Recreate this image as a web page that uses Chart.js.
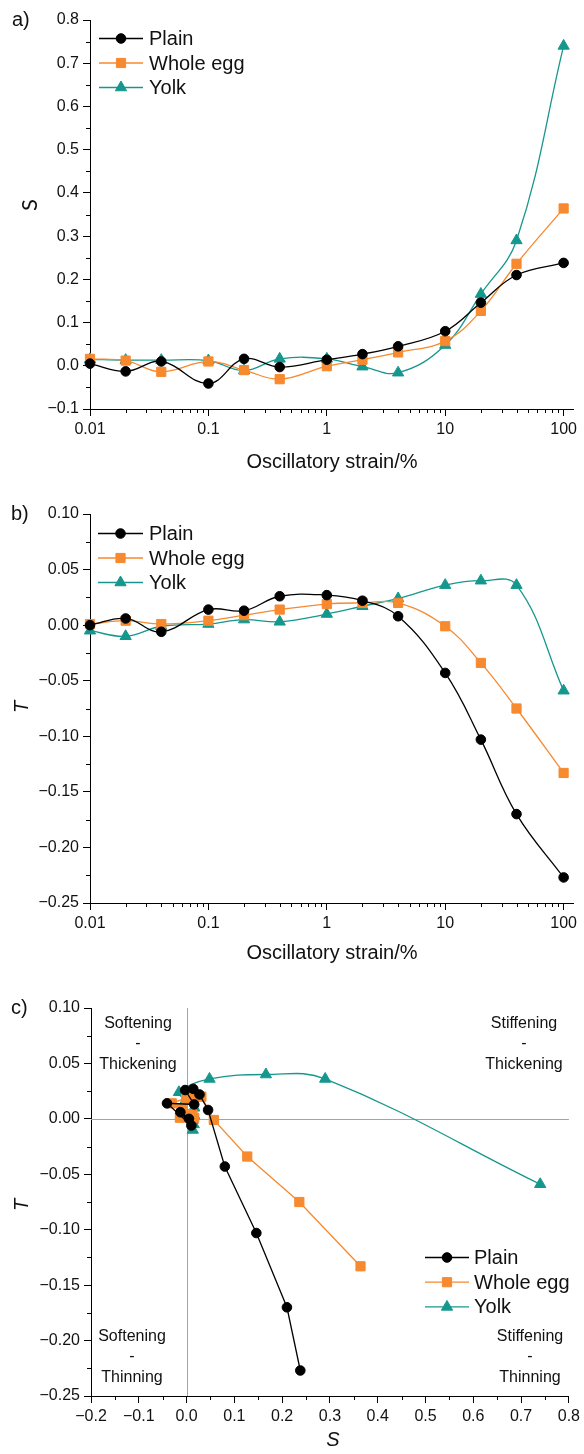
<!DOCTYPE html>
<html>
<head>
<meta charset="utf-8">
<script src="https://cdn.jsdelivr.net/npm/chart.js@4.4.0/dist/chart.umd.min.js"></script>
<style>
body { margin: 0; background: #fff; }
#wrap { position: relative; width: 584px; height: 1454px; }
canvas { position: absolute; left: 0; }
</style>
</head>
<body>
<div id="wrap">
  <canvas id="chartA" width="584" height="480" style="top:0px"></canvas>
  <canvas id="chartB" width="584" height="490" style="top:480px"></canvas>
  <canvas id="chartC" width="584" height="484" style="top:970px"></canvas>
</div>
<script>
// oscillatory strain (%) for every point
const strain = [0.01, 0.02, 0.04, 0.1, 0.2, 0.4, 1, 2, 4, 10, 20, 40, 100];

// strain-stiffening ratio S
const sPlain = [0.005, -0.013, 0.010, -0.041, 0.016, -0.003, 0.014, 0.027, 0.045, 0.080, 0.146, 0.210, 0.238];
const sEgg   = [0.016, 0.012, -0.014, 0.010, -0.010, -0.031, -0.001, 0.014, 0.031, 0.057, 0.127, 0.236, 0.364];
const sYolk  = [0.015, 0.013, 0.013, 0.012, -0.011, 0.016, 0.016, -0.002, -0.016, 0.048, 0.166, 0.290, 0.740];

// shear-thickening ratio T
const tPlain = [0.000, 0.006, -0.006, 0.014, 0.013, 0.026, 0.027, 0.022, 0.008, -0.043, -0.103, -0.170, -0.227];
const tEgg   = [0.001, 0.004, 0.001, 0.004, 0.009, 0.014, 0.019, 0.020, 0.020, -0.001, -0.034, -0.075, -0.133];
const tYolk  = [-0.005, -0.010, -0.001, 0.001, 0.005, 0.003, 0.010, 0.017, 0.024, 0.036, 0.040, 0.036, -0.059];

const seriesNames = ['Plain', 'Whole egg', 'Yolk'];

// tick labels
const strainTicks = [0.01, 0.1, 1, 10, 100];
const strainLabels = ['0.01', '0.1', '1', '10', '100'];
const sTicks = [-0.1, 0, 0.1, 0.2, 0.3, 0.4, 0.5, 0.6, 0.7, 0.8];
const tTicks = [-0.25, -0.2, -0.15, -0.1, -0.05, 0, 0.05, 0.1];
const sTicksC = [-0.2, -0.1, 0, 0.1, 0.2, 0.3, 0.4, 0.5, 0.6, 0.7, 0.8];

const FONT = "'Liberation Sans', Arial, sans-serif";
Chart.defaults.font.family = FONT;
Chart.defaults.color = '#111';

const BLACK = '#000000';
const ORANGE = '#f7892f';
const TEAL = '#16978d';

function fmt(v, d) {
    const s = Math.abs(v).toFixed(d);
    return v < -1e-9 ? '\u2212' + s : s;
}

function logMinor() {
    const out = [];
    for (const d of [0.01, 0.1, 1, 10]) {
        for (let k = 2; k <= 9; k++) out.push(d * k);
    }
    return out;
}
function halfSteps(ticks) {
    const out = [];
    for (let i = 0; i < ticks.length - 1; i++) out.push((ticks[i] + ticks[i + 1]) / 2);
    return out;
}

function makeSet(label, xs, ys, color, style, radius, tension) {
    return {
        label: label,
        data: xs.map((x, i) => ({ x: x, y: ys[i] })),
        borderColor: color,
        backgroundColor: color,
        pointBackgroundColor: color,
        pointBorderColor: color,
        pointStyle: style,
        pointRadius: radius,
        pointBorderWidth: 1,
        borderWidth: 1.3,
        tension: tension,
        clip: false
    };
}

function axisCommon(tickVals, labelFn) {
    return {
        grid: { display: true, drawOnChartArea: false, drawTicks: true, tickLength: 7, tickColor: '#000', tickWidth: 1 },
        border: { display: true, color: '#000', width: 1 },
        afterBuildTicks: (s) => { s.ticks = tickVals.map(v => ({ value: v })); },
        ticks: { font: { size: 16 }, color: '#111', padding: 4, maxRotation: 0, autoSkip: false, callback: labelFn }
    };
}

function marker(ctx, style, r, x, y) {
    if (Chart.helpers && Chart.helpers.drawPoint) {
        Chart.helpers.drawPoint(ctx, { pointStyle: style, radius: r, borderWidth: 1, rotation: 0 }, x, y);
        return;
    }
    ctx.beginPath();
    ctx.arc(x, y, r, 0, Math.PI * 2);
    ctx.fill();
}

// minor ticks, legend, titles and other annotations
function decoPlugin(cfg) {
    return {
        id: 'deco',
        beforeDatasetsDraw(chart) {
            if (!cfg.zeroLines) return;
            const ctx = chart.ctx, a = chart.chartArea;
            const px = Math.round(chart.scales.x.getPixelForValue(0)) + 0.5;
            const py = Math.round(chart.scales.y.getPixelForValue(0)) + 0.5;
            ctx.save();
            ctx.strokeStyle = '#a3a3a3';
            ctx.lineWidth = 1;
            ctx.beginPath();
            ctx.moveTo(px, a.top); ctx.lineTo(px, a.bottom);
            ctx.moveTo(a.left, py); ctx.lineTo(a.right, py);
            ctx.stroke();
            ctx.restore();
        },
        afterDraw(chart) {
            const ctx = chart.ctx, a = chart.chartArea;
            const xs = chart.scales.x, ys = chart.scales.y;
            ctx.save();
            ctx.strokeStyle = '#000';
            ctx.lineWidth = 1;
            ctx.beginPath();
            for (const v of cfg.minorX) {
                const p = Math.round(xs.getPixelForValue(v)) + 0.5;
                ctx.moveTo(p, a.bottom); ctx.lineTo(p, a.bottom + 4);
            }
            for (const v of cfg.minorY) {
                const p = Math.round(ys.getPixelForValue(v)) + 0.5;
                ctx.moveTo(a.left, p); ctx.lineTo(a.left - 4, p);
            }
            ctx.stroke();

            // legend
            const lg = cfg.legend;
            chart.data.datasets.forEach((ds, i) => {
                const y = lg.y + i * lg.dy;
                ctx.strokeStyle = ds.borderColor;
                ctx.lineWidth = 1.3;
                ctx.beginPath();
                ctx.moveTo(lg.x0, y); ctx.lineTo(lg.x1, y);
                ctx.stroke();
                ctx.fillStyle = ds.pointBackgroundColor;
                ctx.strokeStyle = ds.pointBorderColor;
                ctx.lineWidth = 1;
                marker(ctx, ds.pointStyle, ds.pointRadius, (lg.x0 + lg.x1) / 2, y);
                ctx.fillStyle = '#111';
                ctx.font = '20px ' + FONT;
                ctx.textAlign = 'left';
                ctx.textBaseline = 'middle';
                ctx.fillText(ds.label, lg.tx, y + 1);
            });

            // free texts
            for (const t of cfg.texts) {
                ctx.save();
                ctx.fillStyle = '#111';
                ctx.font = t.font;
                ctx.textAlign = t.align || 'center';
                ctx.textBaseline = 'middle';
                ctx.translate(t.x, t.y);
                if (t.rot) ctx.rotate(t.rot);
                ctx.fillText(t.text, 0, 0);
                ctx.restore();
            }
            ctx.restore();
        }
    };
}

// a) S against strain
new Chart(document.getElementById('chartA'), {
    type: 'line',
    data: {
        datasets: [
            makeSet(seriesNames[0], strain, sPlain, BLACK, 'circle', 4.8, 0.4),
            makeSet(seriesNames[1], strain, sEgg, ORANGE, 'rect', 6.5, 0.4),
            makeSet(seriesNames[2], strain, sYolk, TEAL, 'triangle', 6.5, 0.4)
        ]
    },
    options: {
        responsive: false,
        animation: false,
        events: [],
        layout: { padding: { top: 20, right: 11, left: 0, bottom: 0 } },
        plugins: { legend: { display: false }, tooltip: { enabled: false } },
        scales: {
            x: Object.assign(axisCommon(strainTicks, (v, i) => strainLabels[i]), {
                type: 'logarithmic', min: 0.01, max: 120,
                afterFit: (s) => { s.height = 71; }
            }),
            y: Object.assign(axisCommon(sTicks, (v) => fmt(v, 1)), {
                type: 'linear', min: -0.1, max: 0.8,
                afterFit: (s) => { s.width = 90; }
            })
        }
    },
    plugins: [decoPlugin({
        minorX: logMinor(),
        minorY: halfSteps(sTicks),
        legend: { x0: 99, x1: 143, tx: 149, y: 38.5, dy: 24.5 },
        texts: [
            { text: 'a)', x: 12, y: 20, align: 'left', font: '20px ' + FONT },
            { text: 'S', x: 30, y: 205, rot: -Math.PI / 2, font: '22px Lato, ' + FONT },
            { text: 'Oscillatory strain/%', x: 332, y: 462, font: '20px ' + FONT }
        ]
    })]
});

// b) T against strain
new Chart(document.getElementById('chartB'), {
    type: 'line',
    data: {
        datasets: [
            makeSet(seriesNames[0], strain, tPlain, BLACK, 'circle', 4.8, 0.4),
            makeSet(seriesNames[1], strain, tEgg, ORANGE, 'rect', 6.5, 0.4),
            makeSet(seriesNames[2], strain, tYolk, TEAL, 'triangle', 6.5, 0.4)
        ]
    },
    options: {
        responsive: false,
        animation: false,
        events: [],
        layout: { padding: { top: 34, right: 11, left: 0, bottom: 0 } },
        plugins: { legend: { display: false }, tooltip: { enabled: false } },
        scales: {
            x: Object.assign(axisCommon(strainTicks, (v, i) => strainLabels[i]), {
                type: 'logarithmic', min: 0.01, max: 120,
                afterFit: (s) => { s.height = 67; }
            }),
            y: Object.assign(axisCommon(tTicks, (v) => fmt(v, 2)), {
                type: 'linear', min: -0.25, max: 0.1,
                afterFit: (s) => { s.width = 90; }
            })
        }
    },
    plugins: [decoPlugin({
        minorX: logMinor(),
        minorY: halfSteps(tTicks),
        legend: { x0: 98, x1: 143, tx: 149, y: 53.5, dy: 24.5 },
        texts: [
            { text: 'b)', x: 11, y: 34, align: 'left', font: '20px ' + FONT },
            { text: 'T', x: 22, y: 227, rot: -Math.PI / 2, font: 'italic 20px ' + FONT },
            { text: 'Oscillatory strain/%', x: 332, y: 473, font: '20px ' + FONT }
        ]
    })]
});

// c) T against S
new Chart(document.getElementById('chartC'), {
    type: 'scatter',
    data: {
        datasets: [
            Object.assign(makeSet(seriesNames[0], sPlain, tPlain, BLACK, 'circle', 4.8, 0), { showLine: true }),
            Object.assign(makeSet(seriesNames[1], sEgg, tEgg, ORANGE, 'rect', 6.5, 0), { showLine: true }),
            Object.assign(makeSet(seriesNames[2], sYolk, tYolk, TEAL, 'triangle', 6.5, 0.4), { showLine: true })
        ]
    },
    options: {
        responsive: false,
        animation: false,
        events: [],
        layout: { padding: { top: 38, right: 12, left: 0, bottom: 0 } },
        plugins: { legend: { display: false }, tooltip: { enabled: false } },
        scales: {
            x: Object.assign(axisCommon(sTicksC, (v) => fmt(v, 1)), {
                type: 'linear', min: -0.2, max: 0.8,
                afterFit: (s) => { s.height = 58; }
            }),
            y: Object.assign(axisCommon(tTicks, (v) => fmt(v, 2)), {
                type: 'linear', min: -0.25, max: 0.1,
                afterFit: (s) => { s.width = 91; }
            })
        }
    },
    plugins: [decoPlugin({
        zeroLines: true,
        minorX: halfSteps(sTicksC),
        minorY: halfSteps(tTicks),
        legend: { x0: 425, x1: 469, tx: 474, y: 287.5, dy: 24.7 },
        texts: [
            { text: 'c)', x: 11, y: 38, align: 'left', font: '20px ' + FONT },
            { text: 'T', x: 22, y: 235, rot: -Math.PI / 2, font: 'italic 20px ' + FONT },
            { text: 'S', x: 333, y: 470, font: 'italic 20px ' + FONT },
            { text: 'Softening', x: 138, y: 53.5, font: '16px ' + FONT },
            { text: '-', x: 138, y: 74, font: '16px ' + FONT },
            { text: 'Thickening', x: 138, y: 94.5, font: '16px ' + FONT },
            { text: 'Stiffening', x: 524, y: 53.5, font: '16px ' + FONT },
            { text: '-', x: 524, y: 74, font: '16px ' + FONT },
            { text: 'Thickening', x: 524, y: 94.5, font: '16px ' + FONT },
            { text: 'Softening', x: 132, y: 366.5, font: '16px ' + FONT },
            { text: '-', x: 132, y: 387, font: '16px ' + FONT },
            { text: 'Thinning', x: 132, y: 407.5, font: '16px ' + FONT },
            { text: 'Stiffening', x: 530, y: 366.5, font: '16px ' + FONT },
            { text: '-', x: 530, y: 387, font: '16px ' + FONT },
            { text: 'Thinning', x: 530, y: 407.5, font: '16px ' + FONT }
        ]
    })]
});
</script>
</body>
</html>
